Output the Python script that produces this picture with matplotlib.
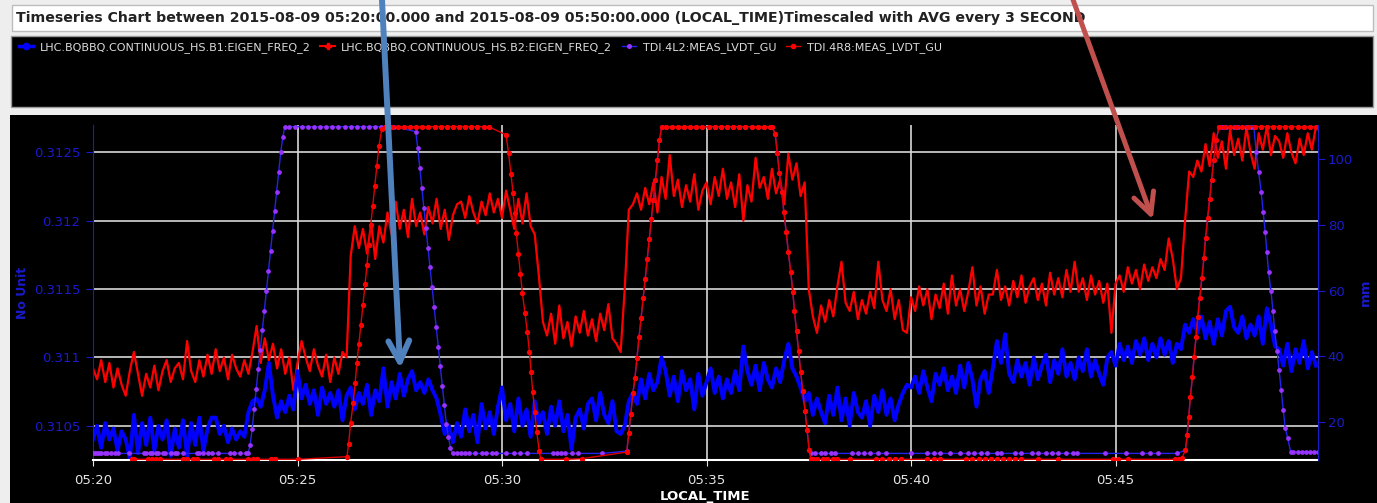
import matplotlib.pyplot as plt
import matplotlib.dates as mdates
from matplotlib.lines import Line2D
from matplotlib.patches import Rectangle
import pandas as pd

W, H = 1377, 503

start = pd.Timestamp('2015-08-09 05:20:00')

title = ('Timeseries Chart between 2015-08-09 05:20:00.000 and 2015-08-09 05:50:00.000 '
         '(LOCAL_TIME)Timescaled with AVG every 3 SECOND')
names = ['LHC.BQBBQ.CONTINUOUS_HS.B1:EIGEN_FREQ_2',
         'LHC.BQBBQ.CONTINUOUS_HS.B2:EIGEN_FREQ_2',
         'TDI.4L2:MEAS_LVDT_GU',
         'TDI.4R8:MEAS_LVDT_GU']

# eigen frequencies, one value every 6 s (one row = one minute)
b1 = [0.31040, 0.31050, 0.31034, 0.31052, 0.31040, 0.31048, 0.31032, 0.31046, 0.31040, 0.31026,
      0.31058, 0.31030, 0.31052, 0.31036, 0.31056, 0.31032, 0.31050, 0.31040, 0.31054, 0.31028,
      0.31048, 0.31034, 0.31054, 0.31028, 0.31052, 0.31036, 0.31056, 0.31032, 0.31048, 0.31056,
      0.31056, 0.31044, 0.31050, 0.31038, 0.31048, 0.31040, 0.31046, 0.31042, 0.31060, 0.31068,
      0.31070, 0.31064, 0.31076, 0.31096, 0.31072, 0.31056, 0.31068, 0.31060, 0.31072, 0.31062,
      0.31090, 0.31070, 0.31080, 0.31066, 0.31076, 0.31058, 0.31078, 0.31066, 0.31074, 0.31064,
      0.31076, 0.31054, 0.31072, 0.31078, 0.31062, 0.31074, 0.31066, 0.31080, 0.31058, 0.31076,
      0.31068, 0.31092, 0.31064, 0.31082, 0.31070, 0.31088, 0.31072, 0.31084, 0.31090, 0.31076,
      0.31082, 0.31074, 0.31084, 0.31076, 0.31070, 0.31058, 0.31044, 0.31050, 0.31038, 0.31052,
      0.31042, 0.31062, 0.31046, 0.31058, 0.31038, 0.31066, 0.31048, 0.31060, 0.31044, 0.31064,
      0.31078, 0.31054, 0.31066, 0.31046, 0.31070, 0.31050, 0.31062, 0.31042, 0.31068, 0.31052,
      0.31060, 0.31044, 0.31064, 0.31050, 0.31068, 0.31046, 0.31058, 0.31033, 0.31056, 0.31062,
      0.31048, 0.31066, 0.31070, 0.31054, 0.31074, 0.31058, 0.31052, 0.31068, 0.31046, 0.31044,
      0.31050, 0.31068, 0.31074, 0.31066, 0.31084, 0.31070, 0.31088, 0.31076, 0.31082, 0.31100,
      0.31090, 0.31072, 0.31086, 0.31068, 0.31090, 0.31076, 0.31084, 0.31062, 0.31088, 0.31072,
      0.31082, 0.31092, 0.31074, 0.31086, 0.31070, 0.31084, 0.31074, 0.31090, 0.31076, 0.31108,
      0.31090, 0.31080, 0.31094, 0.31076, 0.31096, 0.31084, 0.31078, 0.31092, 0.31082, 0.31098,
      0.31110, 0.31092, 0.31086, 0.31078, 0.31068, 0.31074, 0.31058, 0.31070, 0.31060, 0.31052,
      0.31072, 0.31058, 0.31078, 0.31054, 0.31070, 0.31050, 0.31074, 0.31060, 0.31056, 0.31068,
      0.31050, 0.31072, 0.31060, 0.31076, 0.31058, 0.31070, 0.31054, 0.31066, 0.31074, 0.31080,
      0.31078, 0.31086, 0.31074, 0.31090, 0.31078, 0.31068, 0.31088, 0.31080, 0.31092, 0.31076,
      0.31086, 0.31074, 0.31094, 0.31078, 0.31096, 0.31084, 0.31064, 0.31084, 0.31090, 0.31074,
      0.31092, 0.31112, 0.31096, 0.31117, 0.31088, 0.31082, 0.31098, 0.31086, 0.31096, 0.31080,
      0.31100, 0.31084, 0.31094, 0.31102, 0.31082, 0.31098, 0.31088, 0.31106, 0.31086, 0.31096,
      0.31084, 0.31100, 0.31090, 0.31106, 0.31086, 0.31098, 0.31088, 0.31080, 0.31100, 0.31104,
      0.31094, 0.31110, 0.31098, 0.31108, 0.31096, 0.31112, 0.31102, 0.31114, 0.31098, 0.31110,
      0.31100, 0.31114, 0.31102, 0.31112, 0.31096, 0.31110, 0.31106, 0.31124, 0.31118, 0.31128,
      0.31118, 0.31130, 0.31114, 0.31126, 0.31110, 0.31128, 0.31116, 0.31134, 0.31137, 0.31122,
      0.31118, 0.31130, 0.31114, 0.31124, 0.31116, 0.31130, 0.31110, 0.31136, 0.31124, 0.31108,
      0.31106, 0.31094, 0.31110, 0.31090, 0.31106, 0.31096, 0.31112, 0.31092, 0.31104, 0.31094]

b2 = [0.31092, 0.31084, 0.31098, 0.31082, 0.31096, 0.31078, 0.31092, 0.31080, 0.31072, 0.31090,
      0.31104, 0.31088, 0.31072, 0.31088, 0.31078, 0.31094, 0.31076, 0.31090, 0.31098, 0.31082,
      0.31092, 0.31096, 0.31084, 0.31112, 0.31090, 0.31082, 0.31098, 0.31086, 0.31102, 0.31088,
      0.31106, 0.31090, 0.31100, 0.31084, 0.31102, 0.31092, 0.31086, 0.31098, 0.31088, 0.31104,
      0.31123, 0.31096, 0.31114, 0.31098, 0.31110, 0.31092, 0.31106, 0.31088, 0.31100, 0.31076,
      0.31096, 0.31112, 0.31100, 0.31090, 0.31106, 0.31094, 0.31086, 0.31102, 0.31082, 0.31100,
      0.31088, 0.31104, 0.31100, 0.31174, 0.31196, 0.31180, 0.31194, 0.31176, 0.31198, 0.31172,
      0.31196, 0.31184, 0.31206, 0.31190, 0.31214, 0.31194, 0.31208, 0.31188, 0.31216, 0.31196,
      0.31206, 0.31190, 0.31210, 0.31198, 0.31216, 0.31194, 0.31208, 0.31186, 0.31204, 0.31212,
      0.31214, 0.31202, 0.31218, 0.31206, 0.31198, 0.31214, 0.31204, 0.31220, 0.31206, 0.31216,
      0.31202, 0.31222, 0.31208, 0.31194, 0.31216, 0.31198, 0.31220, 0.31196, 0.31190, 0.31160,
      0.31126, 0.31116, 0.31132, 0.31110, 0.31138, 0.31114, 0.31126, 0.31108, 0.31130, 0.31118,
      0.31134, 0.31116, 0.31128, 0.31112, 0.31132, 0.31120, 0.31139, 0.31114, 0.31110, 0.31104,
      0.31150, 0.31208, 0.31212, 0.31220, 0.31208, 0.31224, 0.31212, 0.31228, 0.31206, 0.31232,
      0.31216, 0.31248, 0.31218, 0.31230, 0.31210, 0.31226, 0.31214, 0.31234, 0.31208, 0.31222,
      0.31228, 0.31212, 0.31232, 0.31218, 0.31238, 0.31216, 0.31228, 0.31210, 0.31234, 0.31200,
      0.31226, 0.31214, 0.31246, 0.31224, 0.31232, 0.31216, 0.31238, 0.31220, 0.31230, 0.31212,
      0.31249, 0.31230, 0.31242, 0.31218, 0.31228, 0.31150, 0.31130, 0.31118, 0.31138, 0.31126,
      0.31142, 0.31130, 0.31152, 0.31170, 0.31140, 0.31134, 0.31148, 0.31128, 0.31142, 0.31132,
      0.31148, 0.31136, 0.31170, 0.31142, 0.31134, 0.31150, 0.31128, 0.31142, 0.31120, 0.31118,
      0.31144, 0.31134, 0.31152, 0.31138, 0.31150, 0.31128, 0.31146, 0.31136, 0.31154, 0.31132,
      0.31160, 0.31138, 0.31150, 0.31134, 0.31148, 0.31166, 0.31138, 0.31152, 0.31132, 0.31146,
      0.31146, 0.31164, 0.31142, 0.31152, 0.31138, 0.31156, 0.31144, 0.31160, 0.31140, 0.31152,
      0.31158, 0.31142, 0.31154, 0.31138, 0.31162, 0.31146, 0.31158, 0.31144, 0.31164, 0.31148,
      0.31170, 0.31148, 0.31158, 0.31142, 0.31160, 0.31146, 0.31156, 0.31140, 0.31154, 0.31118,
      0.31154, 0.31160, 0.31148, 0.31166, 0.31154, 0.31164, 0.31150, 0.31168, 0.31156, 0.31166,
      0.31158, 0.31172, 0.31164, 0.31187, 0.31172, 0.31150, 0.31158, 0.31200, 0.31236, 0.31232,
      0.31244, 0.31236, 0.31256, 0.31240, 0.31264, 0.31246, 0.31258, 0.31238, 0.31266, 0.31248,
      0.31260, 0.31244, 0.31268, 0.31250, 0.31238, 0.31264, 0.31252, 0.31269, 0.31248, 0.31262,
      0.31258, 0.31246, 0.31264, 0.31250, 0.31242, 0.31260, 0.31248, 0.31264, 0.31252, 0.31269]

# TDI gap positions (mm), minutes after 05:20
l2_min = ([0.00, 0.05, 0.10, 0.15, 0.20, 0.30, 0.35, 0.45, 0.55, 0.60, 0.87, 1.25, 1.30, 1.40, 1.45, 1.55, 1.60,
           1.70, 1.75, 1.90, 2.00, 2.05, 2.20, 2.55, 2.60, 2.70, 2.80, 2.90, 3.05, 3.35, 3.45, 3.60, 3.75, 3.79]
          + [3.84, 3.89, 3.94, 3.99, 4.04, 4.09, 4.14, 4.19, 4.24, 4.29, 4.34, 4.39, 4.44, 4.49, 4.54, 4.59, 4.64, 4.69]
          + [4.80, 4.95, 5.10, 5.25, 5.40, 5.55, 5.70, 5.85, 6.00, 6.15, 6.30, 6.45, 6.60, 6.75, 6.90, 7.05, 7.20, 7.35]
          + [7.89, 7.94, 7.99, 8.04, 8.09, 8.14, 8.19, 8.24, 8.29, 8.34, 8.39, 8.44, 8.49, 8.54, 8.59, 8.64, 8.69, 8.74, 8.79]
          + [8.90, 9.00, 9.10, 9.20, 9.35, 9.50, 9.60, 9.75, 9.85, 10.10, 10.30, 10.45, 10.60, 11.25, 11.35, 11.45,
             11.55, 11.70, 11.85, 12.45]
          + [13.05, 13.10, 13.15, 13.20, 13.25, 13.30, 13.35, 13.40, 13.45, 13.50, 13.55, 13.60, 13.65, 13.70, 13.75,
             13.80, 13.85, 13.90]
          + [14.00, 14.15, 14.30, 14.45, 14.60, 14.75, 14.90, 15.05, 15.20, 15.35, 15.50, 15.65, 15.80, 15.95, 16.10,
             16.25, 16.40, 16.55]
          + [16.60, 16.68, 16.73, 16.78, 16.84, 16.89, 16.95, 17.00, 17.06, 17.11, 17.15, 17.20, 17.25, 17.30, 17.35,
             17.41, 17.46, 17.51, 17.55]
          + [17.65, 17.80, 17.90, 18.05, 18.15, 18.55, 18.70, 18.85, 19.00, 19.20, 19.40, 20.00, 20.40, 20.55, 20.70,
             20.95, 21.20, 21.40, 21.55, 21.70, 21.85, 22.10, 22.20, 22.55, 22.70, 22.95, 23.10, 23.30, 23.45, 23.60,
             23.80, 23.95, 24.05, 24.75, 25.25, 25.65, 25.85, 26.05, 26.50]
          + [26.71, 26.75, 26.79, 26.83, 26.88, 26.92, 26.97, 27.01, 27.06, 27.11, 27.16, 27.20, 27.25, 27.30, 27.35,
             27.40, 27.46, 27.53]
          + [27.60, 27.70, 27.80, 27.90, 28.00, 28.10, 28.20, 28.30]
          + [28.38, 28.44, 28.50, 28.56, 28.61, 28.66, 28.70, 28.74, 28.80, 28.85, 28.89, 28.95, 29.00, 29.05, 29.10,
             29.15, 29.21, 29.28]
          + [29.35, 29.45, 29.55, 29.65, 29.75, 29.85, 29.95])
l2_mm = ([10.6] * 34
         + [13.1, 17.9, 24.0, 30.2, 36.1, 41.9, 48.0, 53.9, 59.8, 65.9, 72.0, 78.0, 84.0, 89.9, 95.8, 101.9, 106.5, 109.7]
         + [109.7] * 18
         + [108.2, 103.1, 97.2, 91.2, 84.9, 79.0, 73.0, 67.2, 61.1, 55.1, 49.0, 42.9, 37.1, 31.1, 25.3, 19.5, 15.6, 12.3, 10.6]
         + [10.6] * 20
         + [11.3, 16.7, 22.7, 28.8, 33.4, 39.6, 45.8, 51.6, 57.6, 63.4, 69.5, 75.6, 81.6, 87.4, 93.5, 99.6, 105.6, 109.5]
         + [109.7] * 18
         + [109.7, 107.5, 101.6, 95.7, 90.0, 83.9, 77.6, 71.6, 65.5, 59.6, 53.8, 47.7, 41.7, 35.4, 29.6, 23.5, 17.7, 11.6, 10.6]
         + [10.6] * 39
         + [11.6, 16.2, 21.7, 27.8, 33.8, 39.9, 46.0, 52.0, 57.8, 63.7, 69.8, 75.8, 81.9, 87.7, 93.5, 99.6, 105.6, 109.6]
         + [109.7] * 8
         + [109.6, 102.1, 95.8, 90.0, 83.9, 77.6, 71.8, 65.7, 59.8, 53.8, 47.8, 41.7, 35.9, 29.8, 23.8, 18.2, 15.2, 11.1]
         + [11.1] * 7)

r8_min = ([0.95, 1.00, 1.35, 1.45, 1.55, 1.65, 2.20, 2.30, 2.45, 2.55, 2.95, 3.05, 3.25, 3.35, 3.80, 3.90, 4.00,
           4.35, 4.45, 5.00, 6.21]
          + [6.25, 6.30, 6.36, 6.41, 6.45, 6.50, 6.55, 6.60, 6.65, 6.70, 6.74, 6.79, 6.84, 6.89, 6.94, 6.99, 7.06]
          + [7.15, 7.30, 7.45, 7.60, 7.75, 7.90, 8.05, 8.20, 8.35, 8.50, 8.65, 8.80, 8.95, 9.10, 9.25, 9.40, 9.55, 9.67]
          + [10.10, 10.16, 10.22, 10.27, 10.31, 10.35, 10.40, 10.45, 10.50, 10.56, 10.62, 10.67, 10.71, 10.75, 10.80,
             10.85, 10.91, 10.95]
          + [11.56, 11.95]
          + [13.05, 13.10, 13.15, 13.20, 13.25, 13.30, 13.35, 13.40, 13.45, 13.50, 13.55, 13.60, 13.65, 13.70, 13.75,
             13.80, 13.85, 13.90]
          + [14.00, 14.15, 14.30, 14.45, 14.60, 14.75, 14.90, 15.05, 15.20, 15.35, 15.50, 15.65, 15.80, 15.95, 16.10,
             16.25, 16.40, 16.55]
          + [16.60, 16.68, 16.73, 16.78, 16.84, 16.89, 16.95, 17.00, 17.06, 17.11, 17.15, 17.20, 17.25, 17.30, 17.35,
             17.41, 17.46, 17.51, 17.55]
          + [17.60, 17.70, 17.85, 17.95, 18.10, 18.20, 18.50, 19.15, 19.30, 19.45, 19.60, 19.75, 20.40, 20.55, 20.70,
             21.35, 21.50, 21.65, 21.80, 21.95, 22.10, 22.25, 22.40, 22.55, 22.70, 23.10, 23.60, 24.95, 25.05, 25.30,
             26.45, 26.55]
          + [26.62, 26.71, 26.75, 26.79, 26.83, 26.88, 26.92, 26.97, 27.01, 27.06, 27.11, 27.16, 27.20, 27.25, 27.30,
             27.35, 27.40, 27.46, 27.53]
          + [27.65, 27.80, 27.95, 28.10, 28.25, 28.40, 28.55, 28.70, 28.85, 29.00, 29.15, 29.30, 29.45, 29.60, 29.75,
             29.90])
r8_mm = ([8.8] * 20 + [9.6]
         + [13.6, 19.9, 25.8, 31.9, 37.9, 43.8, 49.6, 55.6, 61.9, 67.7, 73.8, 79.8, 85.7, 91.8, 97.8, 103.8, 108.9]
         + [109.7] * 18
         + [107.2, 101.6, 95.3, 89.5, 83.4, 77.3, 71.1, 65.0, 59.1, 53.3, 47.3, 41.4, 35.2, 29.3, 23.2, 17.2, 11.3, 8.8]
         + [8.8, 9.0]
         + [11.0, 16.7, 22.7, 28.8, 33.4, 39.6, 45.8, 51.6, 57.6, 63.4, 69.5, 75.6, 81.6, 87.4, 93.5, 99.6, 105.6, 109.5]
         + [109.7] * 18
         + [109.7, 107.5, 101.6, 95.7, 90.0, 83.9, 77.6, 71.6, 65.5, 59.6, 53.8, 47.7, 41.7, 35.4, 29.6, 23.5, 17.7, 11.6, 8.8]
         + [8.8] * 32
         + [9.1, 11.6, 16.2, 21.7, 27.8, 33.8, 39.9, 46.0, 52.0, 57.8, 63.7, 69.8, 75.8, 81.9, 87.7, 93.5, 99.6, 105.6, 109.6]
         + [109.7] * 16)

left_ticks = [0.3105, 0.311, 0.3115, 0.312, 0.3125]
left_tick_labels = ['0.3105', '0.311', '0.3115', '0.312', '0.3125']
right_ticks = [20, 40, 60, 80, 100]

eigen_t = pd.date_range(start, periods=len(b1), freq='6s')
l2_t = start + pd.to_timedelta(l2_min, unit='min')
r8_t = start + pd.to_timedelta(r8_min, unit='min')


def fx(px):
    return px / W


def fy(py):
    return 1 - py / H


axis_blue = '#1a1acc'

fig = plt.figure(figsize=(W / 100, H / 100), dpi=100)
fig.patch.set_facecolor('#eeeeee')

# panels of the chart window
fig.add_artist(Rectangle((fx(10), 0), 1 - fx(10), fy(115), transform=fig.transFigure,
                         fc='black', ec='none', zorder=-2))
fig.add_artist(Rectangle((fx(12), fy(31)), fx(1373) - fx(12), fy(5) - fy(31), transform=fig.transFigure,
                         fc='white', ec='#bdbdbd', lw=1, zorder=-2))
fig.add_artist(Rectangle((fx(11), fy(107)), fx(1373) - fx(11), fy(36) - fy(107), transform=fig.transFigure,
                         fc='black', ec='#9a9a9a', lw=1, zorder=-2))
fig.text(fx(16), fy(18), title, ha='left', va='center', fontsize=10.2, fontweight='bold',
         color='#222222', zorder=-1)

ax = fig.add_axes([fx(93), fy(460), fx(1318) - fx(93), fy(125) - fy(460)])
ax.set_facecolor('black')
ax.plot(eigen_t, b2, color='#ff0000', lw=1.6)
ax.plot(eigen_t, b1, color='#0000ff', lw=2.8)

ax2 = ax.twinx()
ax2.plot(l2_t, l2_mm, color='#2222ee', lw=1.0, marker='o', ms=2.4, mfc='#9933ff', mec='#9933ff')
ax2.plot(r8_t, r8_mm, color='#e00000', lw=1.0, marker='o', ms=2.8, mfc='#ff0000', mec='#ff0000')

ax.set_xlim(start, start + pd.Timedelta(minutes=29.95))
ax.set_ylim(0.31025, 0.31270)
ax2.set_ylim(8.6, 110.2)
ax.set_yticks(left_ticks)
ax.set_yticklabels(left_tick_labels)
ax2.set_yticks(right_ticks)
ax.xaxis.set_major_locator(mdates.MinuteLocator(byminute=range(0, 60, 5)))
ax.xaxis.set_major_formatter(mdates.DateFormatter('%H:%M'))

ax.grid(True, color='#d8d8d8', lw=1.2)
ax.tick_params(axis='y', colors=axis_blue, labelsize=9.5, length=5, pad=4)
ax.tick_params(axis='x', colors='#e6e6e6', labelsize=9.5, length=4, pad=6)
ax2.tick_params(axis='y', colors=axis_blue, labelsize=9.5, length=5, pad=2)

for a in (ax, ax2):
    a.spines['top'].set_visible(False)
ax.spines['right'].set_visible(False)
ax2.spines['left'].set_visible(False)
ax2.spines['bottom'].set_visible(False)
ax.spines['left'].set_color(axis_blue)
ax2.spines['right'].set_color(axis_blue)
ax.spines['bottom'].set_color('white')
ax.spines['bottom'].set_linewidth(1.5)

ax.set_ylabel('No Unit', color=axis_blue, fontsize=9, fontweight='bold', va='center')
ax.yaxis.set_label_coords((22 - 93) / (1318 - 93), 0.5)
ax2.set_ylabel('mm', color=axis_blue, fontsize=9.5, fontweight='bold', va='center')
ax2.yaxis.set_label_coords((1365 - 93) / (1318 - 93), 0.5)
ax.set_xlabel('LOCAL_TIME', color='white', fontsize=9.5, fontweight='bold', va='top')
ax.xaxis.set_label_coords(0.5, (460 - 490) / (460 - 125))

# legend in the black box above the plot
handles = [Line2D([], [], color='#0000ff', lw=2.5, marker='o', ms=4.5),
           Line2D([], [], color='#ff0000', lw=1.5, marker='P', ms=5),
           Line2D([], [], color='#2222ee', lw=1, marker='o', ms=2.6, mfc='#9933ff', mec='#9933ff'),
           Line2D([], [], color='#e00000', lw=1, marker='o', ms=3, mfc='#ff0000', mec='#ff0000')]
leg = fig.legend(handles, names, loc='upper left', bbox_to_anchor=(fx(19), fy(42)), ncol=4, frameon=False,
                 fontsize=8.0, labelcolor='#dcdcdc', handlelength=1.3, handletextpad=0.55,
                 columnspacing=0.9, borderpad=0, borderaxespad=0)
leg.set_zorder(-1)

# hand drawn arrows on top of the screenshot
blue_tip = (mdates.date2num(start + pd.Timedelta(minutes=7.51)), 0.31092)
red_tip = (mdates.date2num(start + pd.Timedelta(minutes=25.91)), 0.31201)
ax2.annotate('', xy=blue_tip, xycoords=ax.transData, xytext=(381.5, H + 10), textcoords='figure pixels',
             annotation_clip=False,
             arrowprops=dict(arrowstyle='->,head_length=1.5,head_width=0.75', color='#4f81bd', lw=4.3,
                             mutation_scale=10, shrinkA=0, shrinkB=0))
ax2.annotate('', xy=red_tip, xycoords=ax.transData, xytext=(1069.5, H + 10), textcoords='figure pixels',
             annotation_clip=False,
             arrowprops=dict(arrowstyle='->,head_length=1.5,head_width=0.75', color='#c0504d', lw=3.6,
                             mutation_scale=10, shrinkA=0, shrinkB=0))

fig.savefig('out.png', dpi=100, facecolor=fig.get_facecolor())
